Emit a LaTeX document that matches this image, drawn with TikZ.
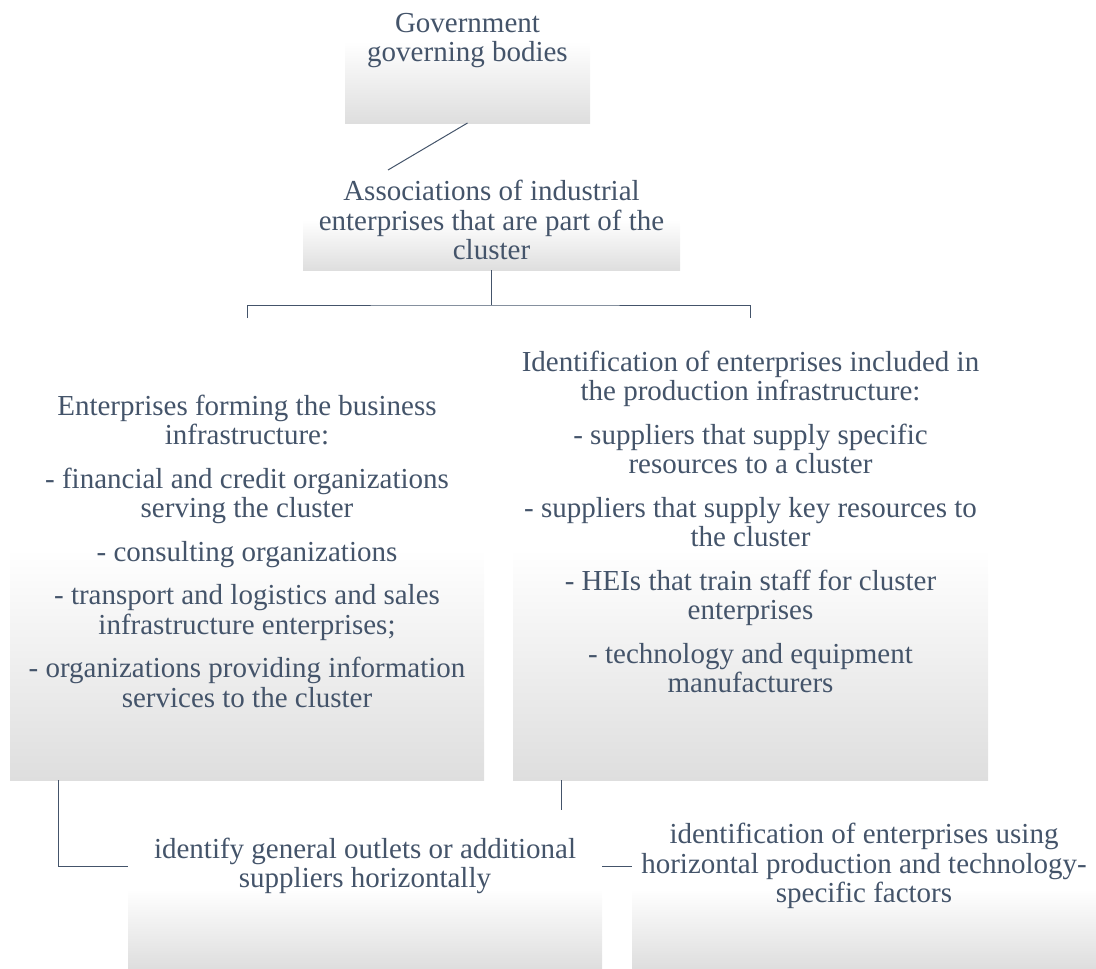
\documentclass[tikz,border=0pt]{standalone}
\usepackage{fontspec}
\setmainfont{Liberation Serif}
\usetikzlibrary{calc}
\definecolor{txtc}{HTML}{44546A}
\definecolor{boxbot}{HTML}{DEDEDE}
\begin{document}
\begin{tikzpicture}[x=1pt,y=-1pt,
  box/.style={draw=none, top color=white, bottom color=boxbot, middle color=white, inner sep=0pt, outer sep=0pt},
  txt/.style={align=center, text=txtc, font=\fontsize{29}{29.5}\selectfont, inner sep=0pt},
  conn/.style={draw=txtc, line width=1pt}]
\useasboundingbox (0,0) rectangle (1096,969);
% boxes
\node[box, minimum width=245pt, minimum height=163pt] (gov) at (467.5,41.5) {};
\node[box, minimum width=377pt, minimum height=100pt] (assoc) at (491.5,220) {};
\node[box, minimum width=474pt, minimum height=462pt] (lb) at (247,549) {};
\node[box, minimum width=475pt, minimum height=462pt] (rb) at (750.5,549) {};
\node[box, minimum width=474pt, minimum height=158pt] (bl) at (365,889) {};
\node[box, minimum width=464pt, minimum height=158pt] (br) at (864,889) {};
% texts
\node[txt] (govt) at (467.5,40.5) {Government\\governing bodies};
\node[txt] (asst) at (491.5,220) {Associations of industrial\\enterprises that are part of the\\cluster};
\node[txt] (lbt) at (247,551) {Enterprises forming the business\\infrastructure:\\[14pt]
- financial and credit organizations\\serving the cluster\\[14pt]
- consulting organizations\\[14pt]
- transport and logistics and sales\\infrastructure enterprises;\\[14pt]
- organizations providing information\\services to the cluster};
\node[txt] (rbt) at (750.5,522) {Identification of enterprises included in\\the production infrastructure:\\[14pt]
- suppliers that supply specific\\resources to a cluster\\[14pt]
- suppliers that supply key resources to\\the cluster\\[14pt]
- HEIs that train staff for cluster\\enterprises\\[14pt]
- technology and equipment\\manufacturers};
\node[txt] (blt) at (365,866) {identify general outlets or additional\\suppliers horizontally};
\node[txt] (brt) at (864,866) {identification of enterprises using\\horizontal production and technology-\\specific factors};
% connectors
\draw[conn] (gov.south) -- ($(assoc.north west)+(85,0)$);
\draw[conn] (assoc.south) -- ++(0,35) coordinate (bar);
\draw[conn] (lb.north) |- (bar) -| (rb.north);
\draw[conn] ($(rb.south west)+(48,0)$) coordinate (s1) -- (s1 |- bl.north);
\draw[conn] ($(lb.south west)+(48,0)$) coordinate (s2) -- (s2 |- blt) -- (bl.west |- blt);
\draw[conn] (bl.east |- blt) -- (br.west |- blt);
\end{tikzpicture}
\end{document}
